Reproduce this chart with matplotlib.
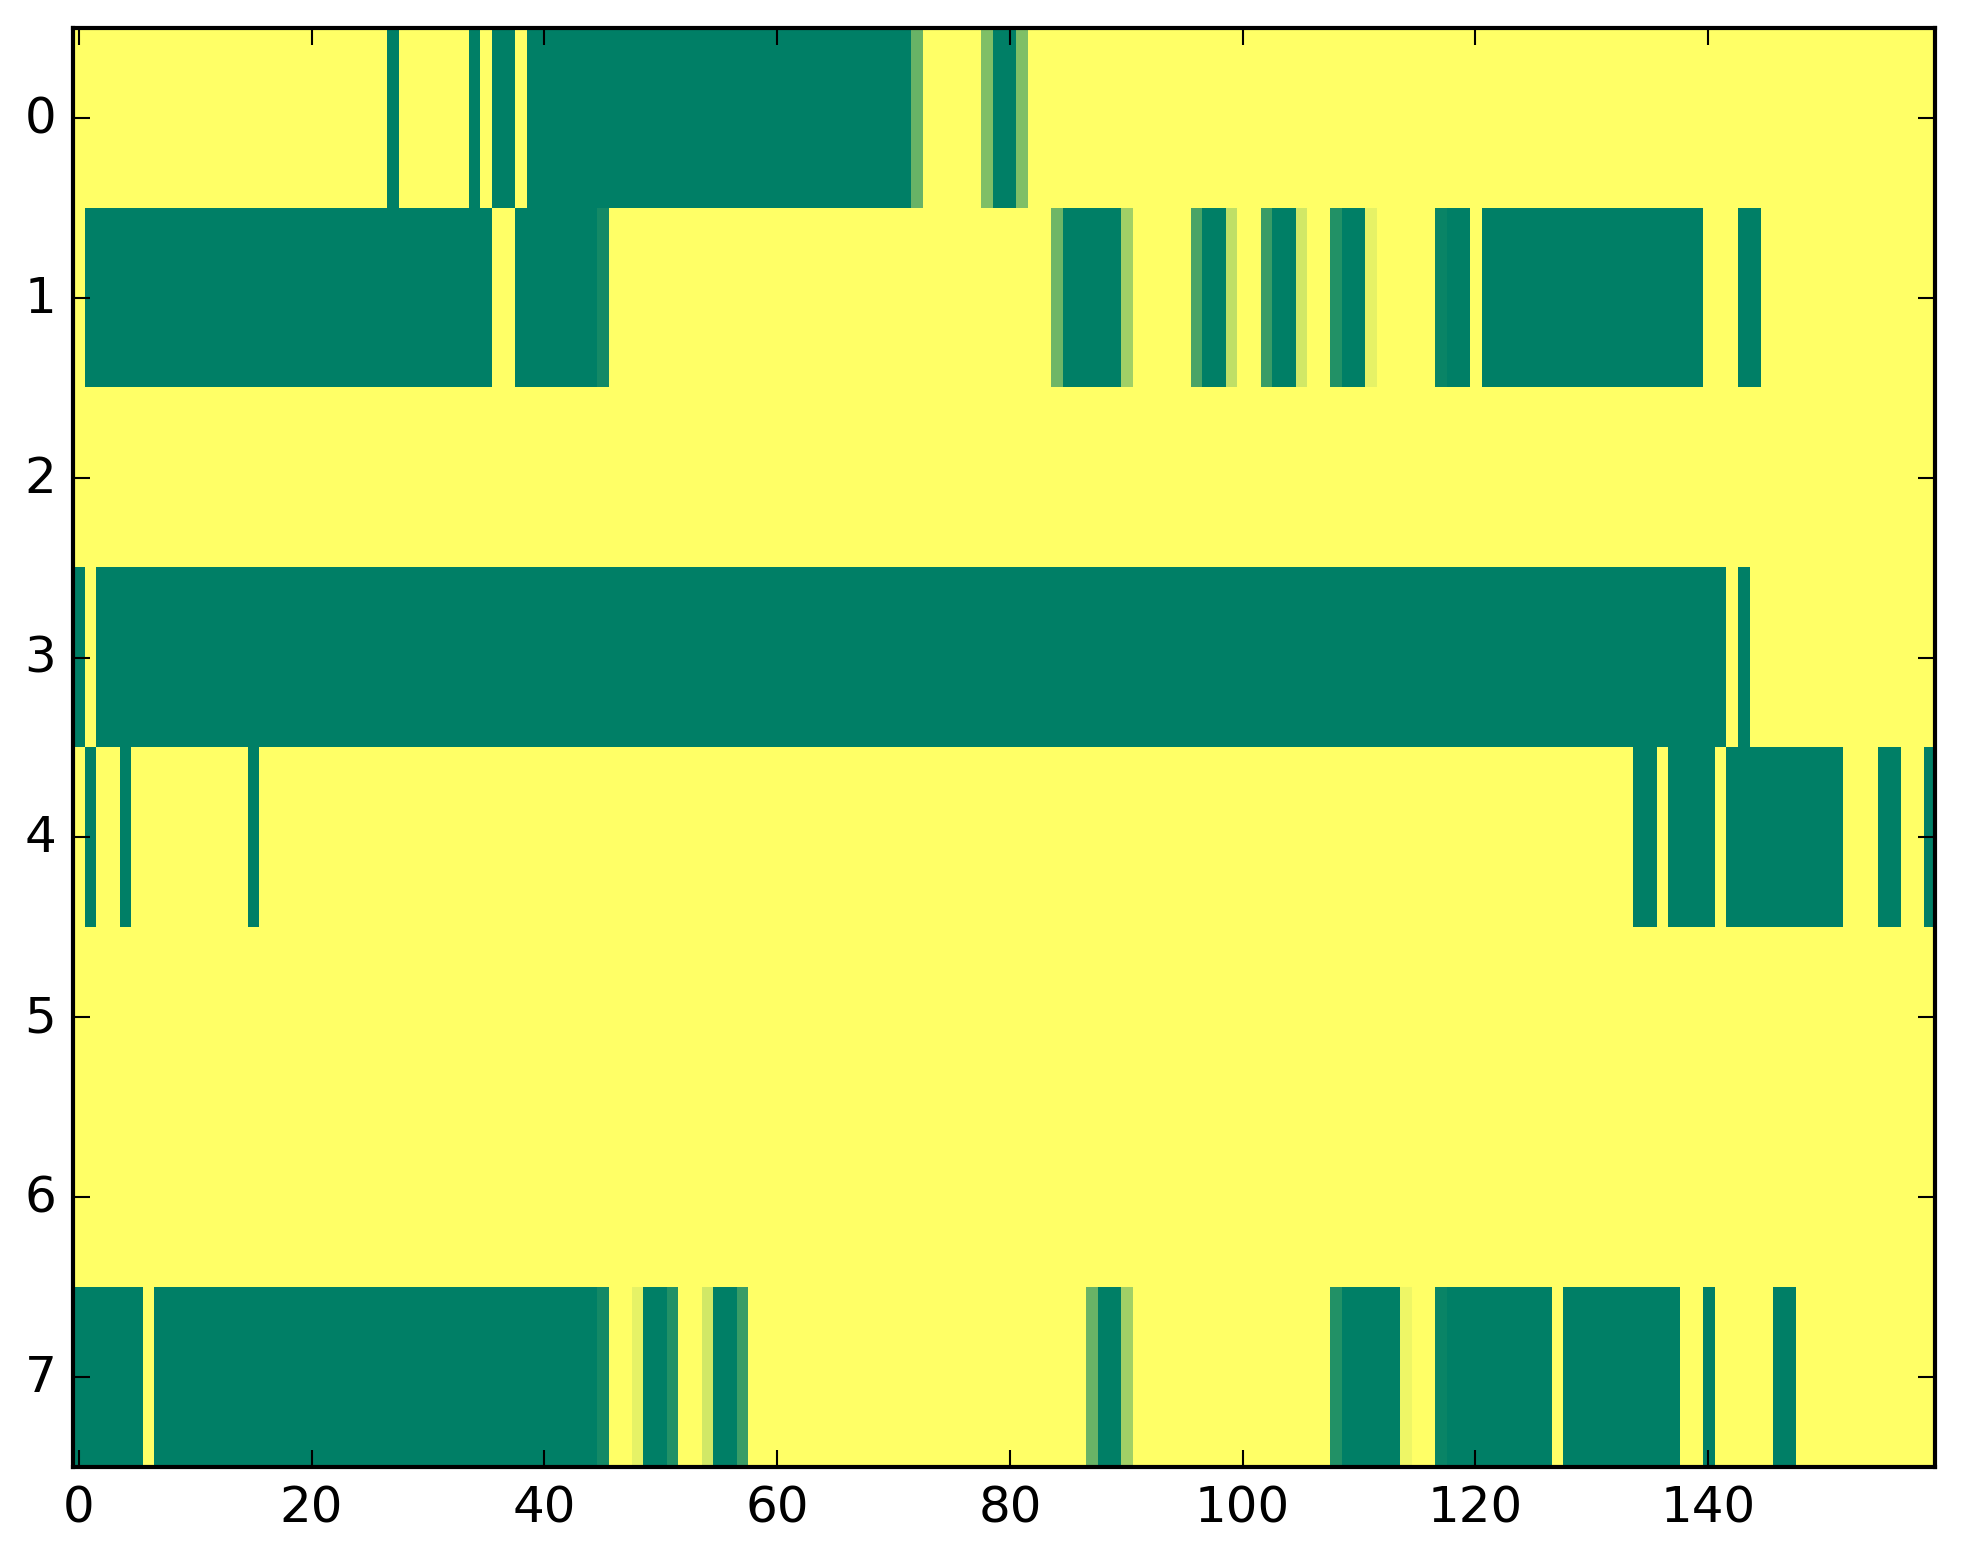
import numpy as np
import matplotlib
matplotlib.use('Agg')
import matplotlib.pyplot as plt

# valores: 8 filas x 160 columnas (0 = amarillo, 1 = verde)
fila0 = ([0] * 27 + [1] + [0] * 6 + [1] + [0] + [1] * 2 + [0] + [1] * 33 + [0.59]
         + [0] * 5 + [0.5] + [1] * 2 + [0.5] + [0] * 78)
fila1 = ([0] + [1] * 35 + [0] * 2 + [1] * 7 + [0.92] + [0] * 38 + [0.57] + [1] * 5
         + [0.37] + [0] * 5 + [0.71] + [1] * 2 + [0.25] + [0] * 2 + [0.77] + [1] * 2
         + [0.18] + [0] * 2 + [0.86] + [1] * 2 + [0.1] + [0] * 5 + [0.96] + [1] * 2
         + [0] + [1] * 19 + [0] * 3 + [1] * 2 + [0] * 15)
fila2 = [0] * 160
fila3 = [1] + [0] + [1] * 140 + [0] + [1] + [0] * 16
fila4 = ([0] + [1] + [0] * 2 + [1] + [0] * 10 + [1] + [0] * 118 + [1] * 2 + [0]
         + [1] * 4 + [0] + [1] * 10 + [0] * 3 + [1] * 2 + [0] * 2 + [1])
fila5 = [0] * 160
fila6 = [0] * 160
fila7 = ([1] * 6 + [0] + [1] * 38 + [0.92] + [0] * 2 + [0.1] + [1] * 2 + [0.86]
         + [0] * 2 + [0.18] + [1] * 2 + [0.77] + [0] * 29 + [0.59] + [1] * 2 + [0.37]
         + [0] * 17 + [0.86] + [1] * 5 + [0.07] + [0] * 2 + [0.96] + [1] * 9 + [0]
         + [1] * 10 + [0] * 2 + [1] + [0] * 5 + [1] * 2 + [0] * 12)

filas = [fila0, fila1, fila2, fila3, fila4, fila5, fila6, fila7]
xticks = [0, 20, 40, 60, 80, 100, 120, 140]
yticks = [0, 1, 2, 3, 4, 5, 6, 7]

datos = np.array(filas, dtype=float)

plt.style.use('classic')
fig = plt.figure(figsize=(1963 / 300, 1564 / 300), dpi=300, facecolor='white')
ax = fig.add_axes([0.0372, 0.0614, 0.9486, 0.920])
ax.imshow(datos, cmap='summer_r', vmin=0, vmax=1, aspect='auto',
          interpolation='nearest')
ax.set_xticks(xticks)
ax.set_yticks(yticks)
ax.set_xlim(-0.5, 159.5)
ax.set_ylim(7.5, -0.5)

fig.savefig('out.png', dpi=300, facecolor='white')
